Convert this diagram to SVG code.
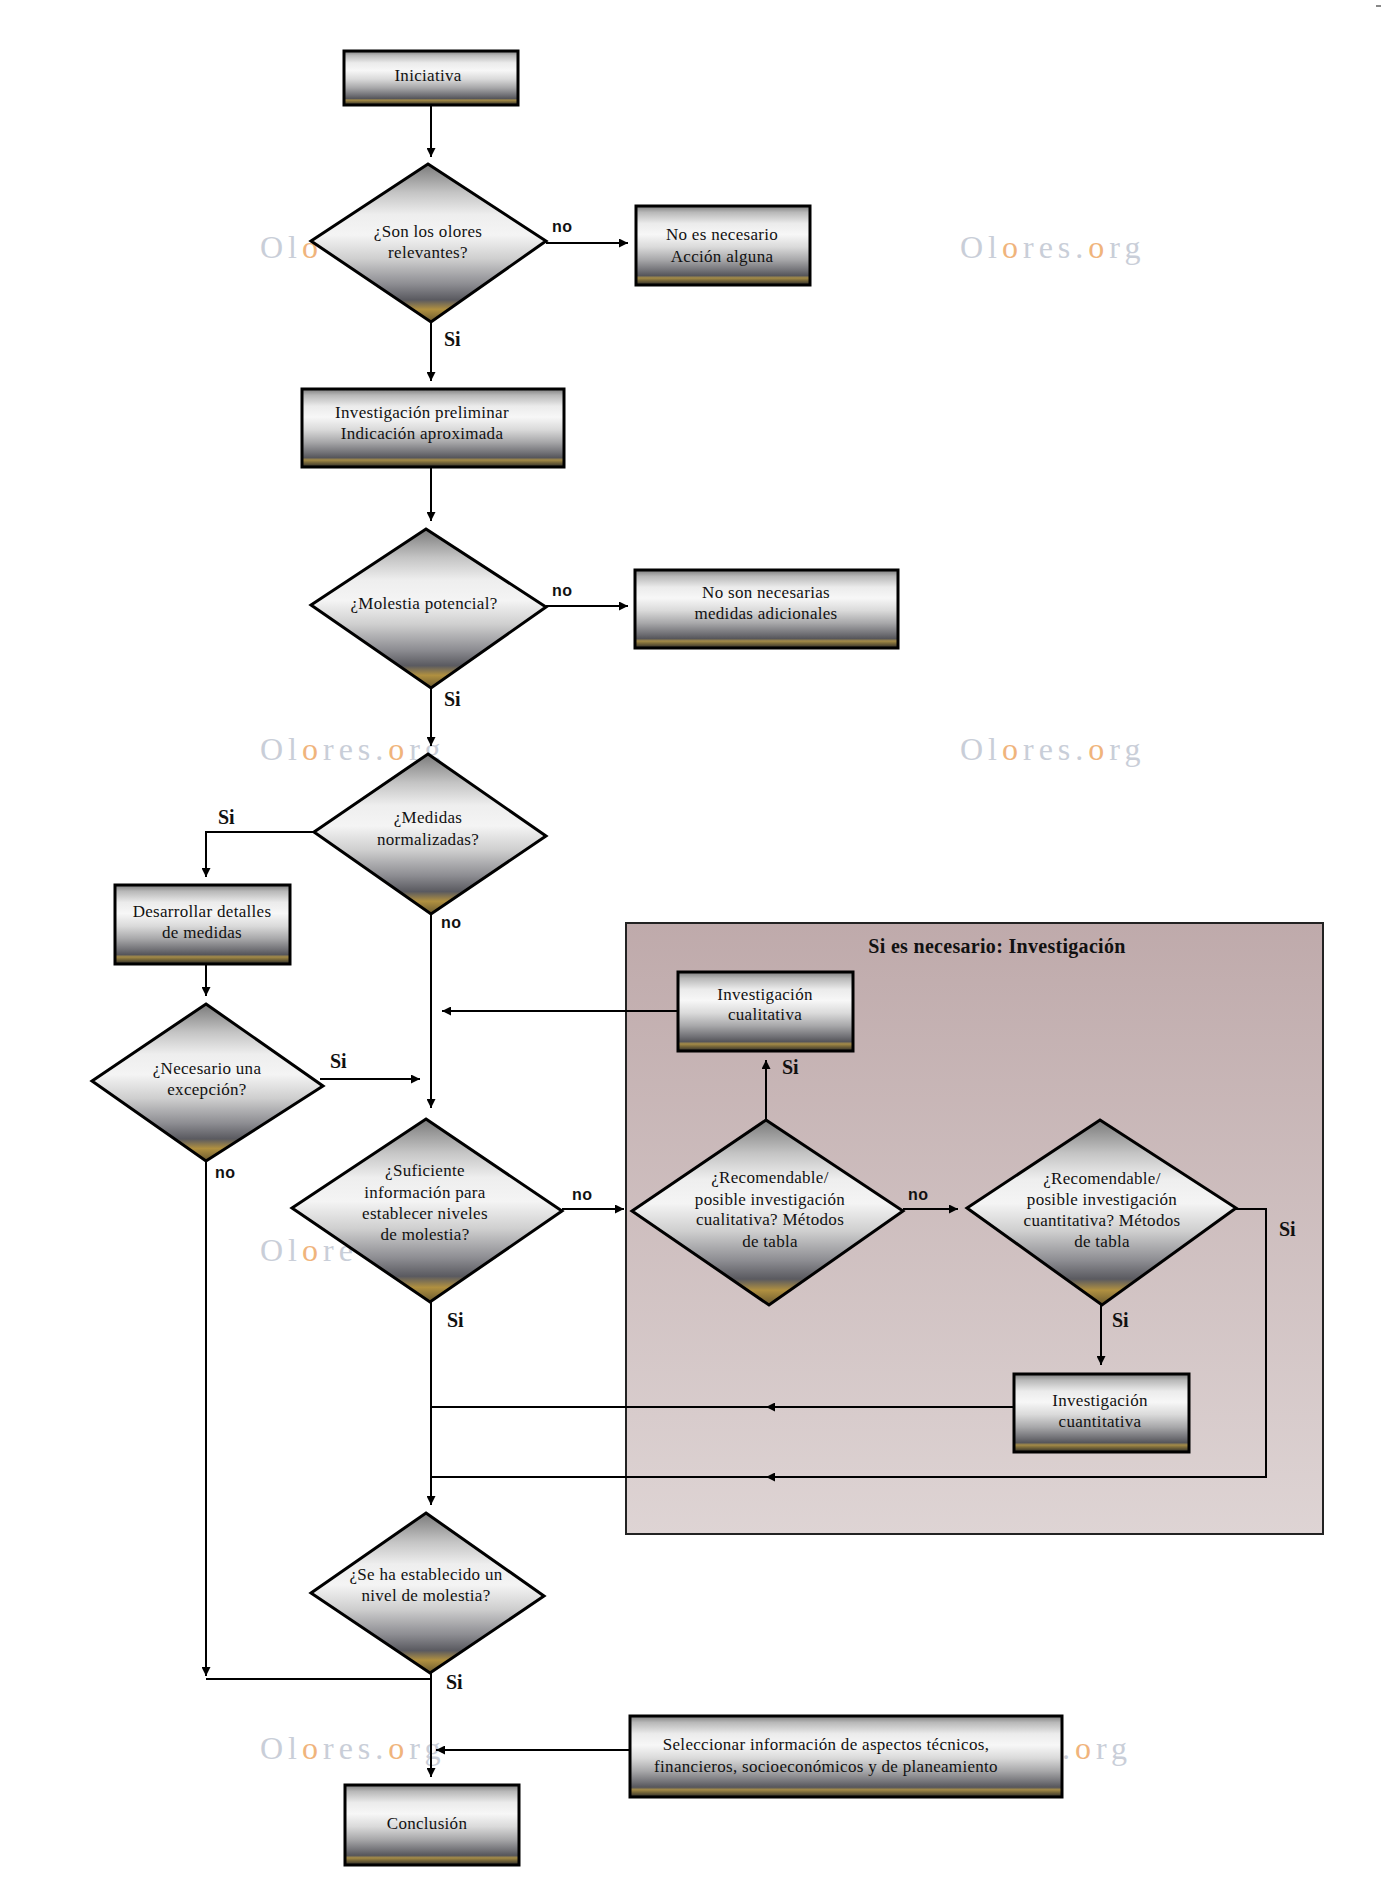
<svg xmlns="http://www.w3.org/2000/svg" width="1388" height="1892" viewBox="0 0 1388 1892">
<defs>
<linearGradient id="gb" x1="0" y1="0" x2="0" y2="1">
<stop offset="0" stop-color="#7d7d7d"/>
<stop offset="0.08" stop-color="#b8b8b8"/>
<stop offset="0.22" stop-color="#ebebeb"/>
<stop offset="0.36" stop-color="#f7f7f7"/>
<stop offset="0.52" stop-color="#dadada"/>
<stop offset="0.68" stop-color="#a8a8aa"/>
<stop offset="0.82" stop-color="#707075"/>
<stop offset="0.88" stop-color="#56565b"/>
<stop offset="0.91" stop-color="#a58c48"/>
<stop offset="0.94" stop-color="#7b6a3a"/>
<stop offset="1" stop-color="#2a2a2a"/>
</linearGradient>
<linearGradient id="gd" x1="0" y1="0" x2="0" y2="1">
<stop offset="0" stop-color="#7a7a7a"/>
<stop offset="0.18" stop-color="#c4c4c4"/>
<stop offset="0.32" stop-color="#eeeeee"/>
<stop offset="0.45" stop-color="#f4f4f4"/>
<stop offset="0.6" stop-color="#cfcfcf"/>
<stop offset="0.76" stop-color="#8d8d92"/>
<stop offset="0.86" stop-color="#5a5a60"/>
<stop offset="0.92" stop-color="#b09040"/>
<stop offset="1" stop-color="#6a5a30"/>
</linearGradient>
<linearGradient id="gg" x1="0" y1="0" x2="0" y2="1">
<stop offset="0" stop-color="#bfaaab"/>
<stop offset="1" stop-color="#ded4d4"/>
</linearGradient>
<marker id="ar" viewBox="0 0 10 10" refX="10" refY="5" markerWidth="9" markerHeight="9" markerUnits="userSpaceOnUse" orient="auto">
<path d="M0,0 L10,5 L0,10 z" fill="#000"/>
</marker>
<style>
.box{fill:url(#gb);stroke:#000;stroke-width:3}
.dia{fill:url(#gd);stroke:#000;stroke-width:3;stroke-linejoin:miter}
.t{font-family:"Liberation Serif",serif;font-size:17px;letter-spacing:0.3px;text-anchor:middle;fill:#111}
.si{font-family:"Liberation Serif",serif;font-size:20px;font-weight:bold;fill:#111}
.ti{font-family:"Liberation Serif",serif;font-size:20px;font-weight:bold;letter-spacing:0.3px;fill:#111;text-anchor:middle}
.no{font-family:"Liberation Sans",sans-serif;font-size:16px;font-weight:bold;letter-spacing:0.5px;fill:#111}
.wm{font-family:"Liberation Serif",serif;font-size:32px;letter-spacing:5px;fill:#c9ced8}
.wo{fill:#f0b47c}
.c{fill:none;stroke:#000;stroke-width:2}
.ca{fill:none;stroke:#000;stroke-width:2;marker-end:url(#ar)}
</style>
</defs>
<rect width="1388" height="1892" fill="#fff"/>
<rect x="1376" y="5" width="5" height="2" fill="#888"/>
<g id="watermarks">
<text class="wm" x="260" y="258">Ol<tspan class="wo">o</tspan></text>
<text class="wm" x="960" y="258">Ol<tspan class="wo">o</tspan>res.<tspan class="wo">o</tspan>rg</text>
<text class="wm" x="260" y="760">Ol<tspan class="wo">o</tspan>res.<tspan class="wo">o</tspan>rg</text>
<text class="wm" x="960" y="760">Ol<tspan class="wo">o</tspan>res.<tspan class="wo">o</tspan>rg</text>
<text class="wm" x="260" y="1261">Ol<tspan class="wo">o</tspan>re</text>
<text class="wm" x="260" y="1759">Ol<tspan class="wo">o</tspan>res.<tspan class="wo">o</tspan>rg</text>
<text class="wm" x="1062" y="1759">.<tspan class="wo">o</tspan>rg</text>
</g>
<g id="group-investigacion">
<rect x="626" y="923" width="697" height="611" fill="url(#gg)" stroke="#222" stroke-width="2"/>
<text class="ti" x="997" y="953">Si es necesario: Investigación</text>
</g>
<g id="connectors">
<path class="ca" d="M431,105 V157"/>
<path class="ca" d="M546,243 H628"/>
<path class="ca" d="M431,322 V381"/>
<path class="ca" d="M431,467 V521"/>
<path class="ca" d="M546,606 H628"/>
<path class="ca" d="M431,688 V746"/>
<path class="ca" d="M314,832 H206 V877"/>
<path class="ca" d="M206,964 V996"/>
<path class="ca" d="M320,1079 H420"/>
<path class="ca" d="M431,914 V1108"/>
<path class="ca" d="M678,1011 H442"/>
<path class="ca" d="M766,1120 V1060"/>
<path class="ca" d="M903,1209 H958"/>
<path class="ca" d="M562,1209 H624"/>
<path class="ca" d="M1101,1305 V1365"/>
<path class="ca" d="M1014,1407 H766"/>
<path class="c" d="M766,1407 H431"/>
<path class="ca" d="M1236,1209 H1266 V1477 H766"/>
<path class="c" d="M766,1477 H431"/>
<path class="ca" d="M431,1302 V1505"/>
<path class="ca" d="M206,1161 V1676"/>
<path class="c" d="M206,1679 H431"/>
<path class="ca" d="M431,1673 V1777"/>
<path class="ca" d="M630,1750 H436"/>
<text class="no" x="552" y="232">no</text>
<text class="no" x="552" y="596">no</text>
<text class="no" x="441" y="928">no</text>
<text class="no" x="215" y="1178">no</text>
<text class="no" x="572" y="1200">no</text>
<text class="no" x="908" y="1200">no</text>
<text class="si" x="444" y="346">Si</text>
<text class="si" x="444" y="706">Si</text>
<text class="si" x="218" y="824">Si</text>
<text class="si" x="330" y="1068">Si</text>
<text class="si" x="782" y="1074">Si</text>
<text class="si" x="447" y="1327">Si</text>
<text class="si" x="1112" y="1327">Si</text>
<text class="si" x="1279" y="1236">Si</text>
<text class="si" x="446" y="1689">Si</text>
</g>
<g id="n-iniciativa"><rect class="box" x="344" y="51" width="174" height="54"/><text class="t" x="428" y="81">Iniciativa</text></g>
<g id="n-relevantes"><polygon class="dia" points="428,164 546,241 431,322 311,241"/><text class="t" x="428" y="237">¿Son los olores</text><text class="t" x="428" y="258">relevantes?</text></g>
<g id="n-no-necesario"><rect class="box" x="636" y="206" width="174" height="79"/><text class="t" x="722" y="240">No es necesario</text><text class="t" x="722" y="262">Acción alguna</text></g>
<g id="n-inv-preliminar"><rect class="box" x="302" y="389" width="262" height="78"/><text class="t" x="422" y="418">Investigación preliminar</text><text class="t" x="422" y="439">Indicación aproximada</text></g>
<g id="n-molestia"><polygon class="dia" points="426,529 546,607 431,688 311,605"/><text class="t" x="424" y="609">¿Molestia potencial?</text></g>
<g id="n-no-medidas"><rect class="box" x="635" y="570" width="263" height="78"/><text class="t" x="766" y="598">No son necesarias</text><text class="t" x="766" y="619">medidas adicionales</text></g>
<g id="n-medidas-norm"><polygon class="dia" points="428,754 546,836 431,914 314,832"/><text class="t" x="428" y="823">¿Medidas</text><text class="t" x="428" y="845">normalizadas?</text></g>
<g id="n-desarrollar"><rect class="box" x="115" y="885" width="175" height="79"/><text class="t" x="202" y="917">Desarrollar detalles</text><text class="t" x="202" y="938">de medidas</text></g>
<g id="n-excepcion"><polygon class="dia" points="206,1004 323,1086 206,1161 92,1081"/><text class="t" x="207" y="1074">¿Necesario una</text><text class="t" x="207" y="1095">excepción?</text></g>
<g id="n-inv-cualitativa"><rect class="box" x="678" y="972" width="175" height="79"/><text class="t" x="765" y="1000">Investigación</text><text class="t" x="765" y="1020">cualitativa</text></g>
<g id="n-rec-cualitativa"><polygon class="dia" points="766,1120 903,1211 769,1305 632,1211"/><text class="t" x="770" y="1183">¿Recomendable/</text><text class="t" x="770" y="1205">posible investigación</text><text class="t" x="770" y="1225">cualitativa? Métodos</text><text class="t" x="770" y="1247">de tabla</text></g>
<g id="n-rec-cuantitativa"><polygon class="dia" points="1100,1120 1236,1208 1102,1305 967,1208"/><text class="t" x="1102" y="1184">¿Recomendable/</text><text class="t" x="1102" y="1205">posible investigación</text><text class="t" x="1102" y="1226">cuantitativa? Métodos</text><text class="t" x="1102" y="1247">de tabla</text></g>
<g id="n-inv-cuantitativa"><rect class="box" x="1014" y="1374" width="175" height="78"/><text class="t" x="1100" y="1406">Investigación</text><text class="t" x="1100" y="1427">cuantitativa</text></g>
<g id="n-suficiente"><polygon class="dia" points="426,1119 562,1211 430,1302 292,1208"/><text class="t" x="425" y="1176">¿Suficiente</text><text class="t" x="425" y="1198">información para</text><text class="t" x="425" y="1219">establecer niveles</text><text class="t" x="425" y="1240">de molestia?</text></g>
<g id="n-establecido"><polygon class="dia" points="426,1513 544,1596 430,1673 311,1593"/><text class="t" x="426" y="1580">¿Se ha establecido un</text><text class="t" x="426" y="1601">nivel de molestia?</text></g>
<g id="n-seleccionar"><rect class="box" x="630" y="1716" width="432" height="81"/><text class="t" x="826" y="1750">Seleccionar información de aspectos técnicos,</text><text class="t" x="826" y="1772">financieros, socioeconómicos y de planeamiento</text></g>
<g id="n-conclusion"><rect class="box" x="345" y="1785" width="174" height="80"/><text class="t" x="427" y="1829">Conclusión</text></g>
</svg>
